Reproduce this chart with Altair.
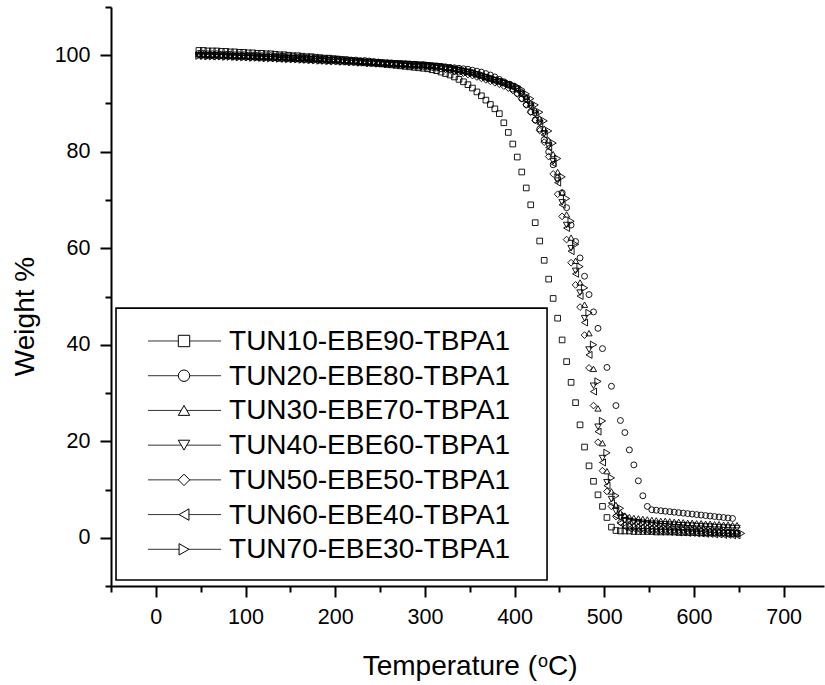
import altair as alt
import pandas as pd

# ---------------- data ----------------
T_START = 48
T_STEP = 5

names = [
    "TUN10-EBE90-TBPA1", "TUN20-EBE80-TBPA1", "TUN30-EBE70-TBPA1",
    "TUN40-EBE60-TBPA1", "TUN50-EBE50-TBPA1", "TUN60-EBE40-TBPA1",
    "TUN70-EBE30-TBPA1",
]
shapes = ["square", "circle", "triangle-up", "triangle-down", "diamond",
          "triangle-left", "triangle-right"]

s1 = [101.0, 101.0, 100.9, 100.9, 100.9, 100.8, 100.8, 100.7, 100.7, 100.6, 100.6,
      100.5, 100.5, 100.4, 100.4, 100.3, 100.3, 100.2, 100.1, 100.1, 100.0,
      99.9, 99.9, 99.8, 99.7, 99.7, 99.6, 99.5, 99.4, 99.4, 99.3,
      99.2, 99.1, 99.0, 98.9, 98.8, 98.7, 98.6, 98.5, 98.4, 98.3,
      98.2, 98.1, 98.0, 97.9, 97.8, 97.7, 97.6, 97.5, 97.4, 97.3,
      97.2, 97.0, 96.8, 96.5, 96.2, 95.9, 95.5, 95.0, 94.5, 93.9,
      93.2, 92.4, 91.6, 90.7, 89.8, 88.9, 87.9, 86.0, 84.0, 81.6,
      78.9, 75.8, 72.5, 69.0, 65.3, 61.5, 57.5, 53.6, 49.6, 45.5,
      41.0, 36.5, 32.2, 28.0, 23.4, 18.8, 14.9, 11.7, 8.9, 6.5,
      4.2, 2.2, 1.5, 1.4, 1.4, 1.4, 1.3, 1.3, 1.3, 1.3,
      1.3, 1.2, 1.2, 1.2, 1.2, 1.2, 1.1, 1.1, 1.1, 1.1,
      1.1, 1.0, 1.0, 1.0, 1.0, 1.0, 1.0, 0.9, 0.9, 0.9]

s2 = [100.4, 100.4, 100.3, 100.3, 100.3, 100.2, 100.2, 100.2, 100.1, 100.1, 100.1,
      100.0, 100.0, 100.0, 99.9, 99.9, 99.9, 99.8, 99.8, 99.8, 99.7,
      99.7, 99.6, 99.6, 99.5, 99.5, 99.4, 99.4, 99.3, 99.3, 99.2,
      99.2, 99.1, 99.1, 99.0, 99.0, 98.9, 98.9, 98.8, 98.7, 98.6,
      98.5, 98.4, 98.4, 98.3, 98.3, 98.2, 98.2, 98.1, 98.0, 98.0,
      97.9, 97.8, 97.8, 97.7, 97.6, 97.5, 97.4, 97.3, 97.2, 97.1,
      96.9, 96.7, 96.5, 96.2, 95.9, 95.5, 95.0, 94.5, 93.8, 93.0,
      92.1, 91.0, 89.8, 88.3, 86.6, 84.7, 82.5, 80.0, 77.3, 74.5,
      71.5, 68.4, 64.8, 61.4, 58.0, 54.2, 50.4, 46.8, 43.4, 39.2,
      35.3, 31.4, 27.4, 24.3, 21.8, 18.2, 15.1, 11.8, 8.7, 6.5,
      5.8, 5.7, 5.6, 5.5, 5.4, 5.3, 5.2, 5.1, 5.0, 4.9,
      4.8, 4.7, 4.6, 4.5, 4.4, 4.3, 4.2, 4.1, 4.0]

s3 = [100.2, 100.2, 100.1, 100.1, 100.1, 100.0, 100.0, 100.0, 99.9, 99.9, 99.9,
      99.8, 99.8, 99.8, 99.7, 99.7, 99.7, 99.6, 99.6, 99.6, 99.5,
      99.5, 99.4, 99.4, 99.4, 99.3, 99.3, 99.2, 99.2, 99.1, 99.1,
      99.0, 99.0, 98.9, 98.9, 98.8, 98.8, 98.7, 98.7, 98.6, 98.6,
      98.5, 98.5, 98.4, 98.4, 98.3, 98.3, 98.2, 98.2, 98.1, 98.1,
      98.0, 97.9, 97.8, 97.7, 97.6, 97.4, 97.3, 97.1, 96.9, 96.7,
      96.5, 96.2, 95.9, 95.6, 95.3, 95.0, 94.7, 94.4, 94.0, 93.7,
      93.3, 92.5, 91.4, 90.1, 88.6, 86.9, 84.8, 82.4, 79.5, 75.8,
      71.6, 67.0, 62.2, 57.4, 52.9, 48.3, 42.4, 35.0, 26.8, 19.6,
      13.8, 9.6, 6.8, 5.2, 4.6, 4.3, 4.1, 4.0, 3.9, 3.8,
      3.7, 3.6, 3.5, 3.5, 3.4, 3.3, 3.3, 3.2, 3.1, 3.1,
      3.0, 3.0, 2.9, 2.9, 2.8, 2.8, 2.7, 2.7, 2.6, 2.6]

s4 = [100.0, 100.0, 100.0, 99.9, 99.9, 99.9, 99.9, 99.8, 99.8, 99.8, 99.8,
      99.7, 99.7, 99.7, 99.6, 99.6, 99.6, 99.5, 99.5, 99.5, 99.4,
      99.4, 99.3, 99.3, 99.3, 99.2, 99.2, 99.1, 99.1, 99.0, 99.0,
      98.9, 98.9, 98.8, 98.8, 98.7, 98.7, 98.6, 98.6, 98.5, 98.5,
      98.4, 98.4, 98.3, 98.3, 98.2, 98.2, 98.1, 98.1, 98.0, 98.0,
      97.9, 97.8, 97.7, 97.6, 97.4, 97.3, 97.1, 96.9, 96.7, 96.5,
      96.3, 96.0, 95.7, 95.4, 95.1, 94.8, 94.5, 94.2, 93.9, 93.5,
      93.0, 92.0, 90.8, 89.5, 87.9, 86.0, 83.8, 81.2, 78.0, 74.0,
      69.5, 64.8, 60.0, 55.3, 50.8, 45.5, 39.0, 31.5, 23.0, 16.5,
      11.5, 8.0, 5.5, 4.2, 3.6, 3.4, 3.3, 3.2, 3.1, 3.0,
      2.9, 2.9, 2.8, 2.8, 2.7, 2.7, 2.6, 2.6, 2.5, 2.5,
      2.4, 2.4, 2.3, 2.3, 2.2, 2.2, 2.1, 2.1, 2.0, 2.0]

s5 = [100.1, 100.1, 100.0, 100.0, 100.0, 99.9, 99.9, 99.9, 99.8, 99.8, 99.8,
      99.7, 99.7, 99.6, 99.6, 99.6, 99.5, 99.5, 99.4, 99.4, 99.4,
      99.3, 99.3, 99.2, 99.2, 99.1, 99.1, 99.0, 99.0, 98.9, 98.9,
      98.8, 98.8, 98.7, 98.7, 98.6, 98.5, 98.5, 98.4, 98.4, 98.3,
      98.3, 98.2, 98.2, 98.1, 98.0, 98.0, 97.9, 97.8, 97.8, 97.7,
      97.6, 97.5, 97.4, 97.2, 97.1, 96.9, 96.7, 96.5, 96.3, 96.0,
      95.8, 95.5, 95.2, 94.9, 94.6, 94.3, 94.0, 93.6, 93.2, 92.7,
      92.0, 91.0, 89.7, 88.2, 86.5, 84.4, 82.0, 79.0, 75.4, 71.2,
      66.6, 61.8, 57.0, 52.4, 47.8, 42.0, 35.2, 27.4, 19.8, 13.9,
      9.6, 6.5, 4.4, 3.2, 2.6, 2.4, 2.3, 2.2, 2.1, 2.0,
      1.9, 1.9, 1.8, 1.8, 1.7, 1.7, 1.6, 1.6, 1.5, 1.5,
      1.4, 1.4, 1.3, 1.3, 1.2, 1.2, 1.1, 1.1, 1.0, 1.0]

s6 = [99.9, 99.9, 99.9, 99.8, 99.8, 99.8, 99.8, 99.7, 99.7, 99.7, 99.6,
      99.6, 99.6, 99.5, 99.5, 99.5, 99.4, 99.4, 99.3, 99.3, 99.3,
      99.2, 99.2, 99.1, 99.1, 99.0, 99.0, 98.9, 98.9, 98.8, 98.8,
      98.7, 98.7, 98.6, 98.6, 98.5, 98.5, 98.4, 98.4, 98.3, 98.3,
      98.2, 98.2, 98.1, 98.1, 98.0, 98.0, 97.9, 97.9, 97.8, 97.8,
      97.7, 97.6, 97.5, 97.4, 97.2, 97.1, 96.9, 96.7, 96.5, 96.3,
      96.1, 95.8, 95.5, 95.2, 94.9, 94.6, 94.3, 94.0, 93.7, 93.3,
      92.7, 91.8, 90.6, 89.3, 87.7, 85.8, 83.5, 80.9, 77.6, 73.6,
      69.0, 64.2, 59.4, 54.7, 50.1, 44.6, 37.9, 30.3, 22.0, 15.6,
      10.8, 7.2, 4.6, 3.0, 2.2, 1.9, 1.8, 1.7, 1.6, 1.5,
      1.4, 1.4, 1.3, 1.3, 1.2, 1.2, 1.1, 1.1, 1.0, 1.0,
      0.9, 0.9, 0.8, 0.8, 0.7, 0.7, 0.6, 0.6, 0.5, 0.5]

s7 = [99.9, 99.9, 99.8, 99.8, 99.8, 99.8, 99.7, 99.7, 99.7, 99.6, 99.6,
      99.6, 99.5, 99.5, 99.5, 99.4, 99.4, 99.4, 99.3, 99.3, 99.2,
      99.2, 99.2, 99.1, 99.1, 99.0, 99.0, 98.9, 98.9, 98.8, 98.8,
      98.8, 98.7, 98.7, 98.6, 98.6, 98.5, 98.5, 98.4, 98.4, 98.3,
      98.3, 98.2, 98.2, 98.1, 98.1, 98.0, 98.0, 97.9, 97.9, 97.8,
      97.8, 97.7, 97.6, 97.5, 97.4, 97.3, 97.1, 97.0, 96.8, 96.6,
      96.4, 96.2, 95.9, 95.6, 95.3, 95.0, 94.8, 94.5, 94.2, 93.9,
      93.5, 92.9, 92.0, 91.0, 89.7, 88.2, 86.4, 84.3, 81.8, 78.6,
      74.8, 70.3, 65.6, 60.8, 56.2, 51.8, 46.6, 40.0, 32.4, 24.2,
      17.6, 12.4, 8.7, 6.1, 4.5, 3.7, 3.4, 3.2, 3.0, 2.9,
      2.8, 2.7, 2.6, 2.5, 2.4, 2.3, 2.2, 2.1, 2.0, 1.9,
      1.8, 1.7, 1.6, 1.5, 1.4, 1.3, 1.3, 1.2, 1.1, 1.0, 0.9]

series_values = [s1, s2, s3, s4, s5, s6, s7]
marker_sizes = [32, 52, 70, 70, 60, 66, 66]

x_ticks = list(range(-50, 750, 50))
y_ticks = list(range(-10, 111, 10))

rows = []
for name, vals in zip(names, series_values):
    for k, v in enumerate(vals):
        rows.append({"series": name, "T": T_START + T_STEP * k, "W": v})
df = pd.DataFrame(rows)

# ---------------- scales / axes ----------------
x_scale = alt.Scale(domain=[-50, 745], nice=False, zero=False)
y_scale = alt.Scale(domain=[-10, 110], nice=False, zero=False)
shape_scale = alt.Scale(domain=names, range=shapes)

FONT = "Liberation Sans"

x_axis = alt.Axis(
    values=x_ticks,
    labelExpr="datum.value % 100 === 0 ? datum.label : ''",
    tickSize={"condition": {"test": "datum.value % 100 === 0", "value": 11}, "value": 6},
    labelBaseline="alphabetic", labelPadding=26,
    labelFont=FONT, labelFontSize=21.5, labelColor="black",
    domainColor="black", domainWidth=2, tickColor="black", tickWidth=2,
    grid=False, title=None,
)
y_axis = alt.Axis(
    values=y_ticks,
    labelExpr="datum.value % 20 === 0 ? datum.label : ''",
    tickSize={"condition": {"test": "datum.value % 20 === 0", "value": 11}, "value": 6},
    labelPadding=10, labelFont=FONT, labelFontSize=21.5, labelColor="black",
    domainColor="black", domainWidth=2, tickColor="black", tickWidth=2,
    grid=False, title="Weight %", titleFont=FONT, titleFontSize=28,
    titleFontWeight="normal", titleColor="black", titleBaseline="alphabetic",
    titleAlign="center", titleAngle=270, titleX=-78, titleY=309,
)

points = alt.Chart(df).mark_point(filled=False, strokeWidth=0.9, opacity=1,
                                  color="black", clip=True).encode(
    x=alt.X("T:Q", scale=x_scale, axis=x_axis),
    y=alt.Y("W:Q", scale=y_scale, axis=y_axis),
    shape=alt.Shape("series:N", scale=shape_scale, legend=None),
    size=alt.Size("series:O", scale=alt.Scale(domain=names, range=marker_sizes), legend=None),
)

# ---------------- x-axis title with superscript "o" ----------------
xt_main = pd.DataFrame({"t": ["Temperature ("]})
xt_sup = pd.DataFrame({"t": ["o"]})
xt_end = pd.DataFrame({"t": ["C)"]})
title_a = alt.Chart(xt_main).mark_text(align="right", baseline="alphabetic", font=FONT,
                                       fontSize=28, color="black").encode(
    x=alt.value(426), y=alt.value(668), text="t:N")
title_b = alt.Chart(xt_sup).mark_text(align="left", baseline="alphabetic", font=FONT,
                                      fontSize=18, color="black").encode(
    x=alt.value(427), y=alt.value(660), text="t:N")
title_c = alt.Chart(xt_end).mark_text(align="left", baseline="alphabetic", font=FONT,
                                      fontSize=28, color="black").encode(
    x=alt.value(437), y=alt.value(668), text="t:N")

# ---------------- legend (drawn in data space) ----------------
box = pd.DataFrame({"x": [-44.4], "x2": [436.2], "y": [47.6], "y2": [-8.75]})
legend_box = alt.Chart(box).mark_rect(fill="white", stroke="black", strokeWidth=1.6).encode(
    x=alt.X("x:Q", scale=x_scale), x2="x2:Q",
    y=alt.Y("y:Q", scale=y_scale), y2="y2:Q",
)

row_y0 = 40.78
row_step = 7.196
leg = pd.DataFrame({
    "series": names,
    "y": [row_y0 - row_step * i for i in range(len(names))],
    "xl": [-8.7] * len(names),
    "xr": [72.7] * len(names),
    "xm": [31.4] * len(names),
    "xt": [81.6] * len(names),
})
legend_lines = alt.Chart(leg).mark_rule(color="#333", strokeWidth=1).encode(
    x=alt.X("xl:Q", scale=x_scale), x2="xr:Q", y=alt.Y("y:Q", scale=y_scale)
)
legend_marks = alt.Chart(leg).mark_point(filled=True, fill="white", stroke="black",
                                         strokeWidth=1, opacity=1).encode(
    x=alt.X("xm:Q", scale=x_scale), y=alt.Y("y:Q", scale=y_scale),
    shape=alt.Shape("series:N", scale=shape_scale, legend=None),
    size=alt.value(130),
)
legend_text = alt.Chart(leg).mark_text(align="left", baseline="middle", font=FONT,
                                       fontSize=28, color="black", dy=1).encode(
    x=alt.X("xt:Q", scale=x_scale), y=alt.Y("y:Q", scale=y_scale), text="series:N"
)

chart = alt.layer(points, legend_box, legend_lines, legend_marks, legend_text,
                  title_a, title_b, title_c).properties(
    width=713, height=579,
    autosize=alt.AutoSizeParams(type="none"),
    padding={"left": 111, "top": 7, "right": 1, "bottom": 99},
    background="white",
).configure_view(stroke=None)

chart.save("out.html", embed_options={"renderer": "svg", "actions": False})
